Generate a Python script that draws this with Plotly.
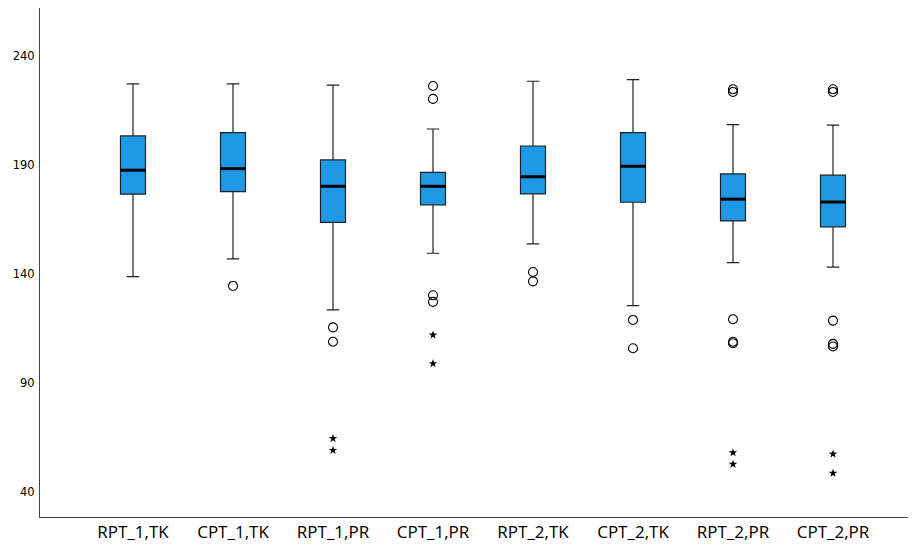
import plotly.graph_objects as go

categories = ["RPT_1,TK", "CPT_1,TK", "RPT_1,PR", "CPT_1,PR", "RPT_2,TK", "CPT_2,TK", "RPT_2,PR", "CPT_2,PR"]
lower_whisker = [138.8, 146.9, 123.5, 149.5, 153.8, 125.5, 145.2, 143.1]
q1 = [176.6, 177.8, 163.7, 171.7, 176.7, 172.9, 164.3, 161.6]
median = [187.6, 188.3, 180.2, 180.2, 184.6, 189.4, 174.3, 173.0]
q3 = [203.3, 204.8, 192.3, 186.6, 198.7, 204.8, 185.9, 185.3]
upper_whisker = [227.2, 227.2, 226.6, 206.5, 228.4, 229.1, 208.5, 208.3]
outliers = [
    [],
    [134.5],
    [115.5, 108.9],
    [226.2, 220.3, 130.2, 127.2],
    [140.9, 136.6],
    [118.9, 105.9],
    [224.7, 223.5, 119.2, 108.9, 108.2],
    [224.7, 223.5, 118.6, 107.9, 106.7],
]
extremes = [
    [],
    [],
    [64.5, 59.1],
    [112.0, 98.9],
    [],
    [],
    [58.0, 52.7],
    [57.4, 48.6],
]
y_ticks = [40, 90, 140, 190, 240]

BOX_W = 0.25
FILL = "#1E98E4"
fig = go.Figure()
xs = list(range(len(categories)))

fig.add_trace(go.Box(
    x=xs, q1=q1, median=median, q3=q3,
    lowerfence=lower_whisker, upperfence=upper_whisker,
    width=BOX_W, whiskerwidth=0.5, boxpoints=False,
    fillcolor=FILL, line=dict(color="#222222", width=1.2),
    hoverinfo="skip", showlegend=False,
))

# thick median lines
mx, my = [], []
for i, m in enumerate(median):
    mx += [i - BOX_W / 2, i + BOX_W / 2, None]
    my += [m, m, None]
fig.add_trace(go.Scatter(x=mx, y=my, mode="lines", line=dict(color="black", width=3),
                         showlegend=False, hoverinfo="skip"))

ox, oy = [], []
for i, vals in enumerate(outliers):
    for v in vals:
        ox.append(i); oy.append(v)
fig.add_trace(go.Scatter(x=ox, y=oy, mode="markers",
                         marker=dict(symbol="circle-open", size=9, color="black", line=dict(width=1.1)),
                         showlegend=False))
ex, ey = [], []
for i, vals in enumerate(extremes):
    for v in vals:
        ex.append(i); ey.append(v)
fig.add_trace(go.Scatter(x=ex, y=ey, mode="markers",
                         marker=dict(symbol="star", size=6.5, color="black"),
                         showlegend=False))

# page body adds an 8px offset; size/margins compensate
fig.update_layout(
    width=908, height=542,
    margin=dict(l=32, r=0, t=0, b=33),
    plot_bgcolor="white", paper_bgcolor="white",
    font=dict(family="DejaVu Sans", color="black"),
)
fig.update_xaxes(
    range=[-0.93, 7.83], tickmode="array", tickvals=xs, ticktext=categories,
    showgrid=False, zeroline=False, showline=True, linecolor="#444444", linewidth=1,
    ticks="", automargin=False, tickfont=dict(family="Open Sans", size=17, color="black"),
)
fig.update_yaxes(
    range=[28.5, 262], tickmode="array", tickvals=y_ticks,
    showgrid=False, zeroline=False, showline=True, linecolor="#444444", linewidth=1,
    ticks="", ticklabelstandoff=2, automargin=False,
    tickfont=dict(family="DejaVu Sans", size=11.5, color="black"),
)

fig.write_html("out.html")
